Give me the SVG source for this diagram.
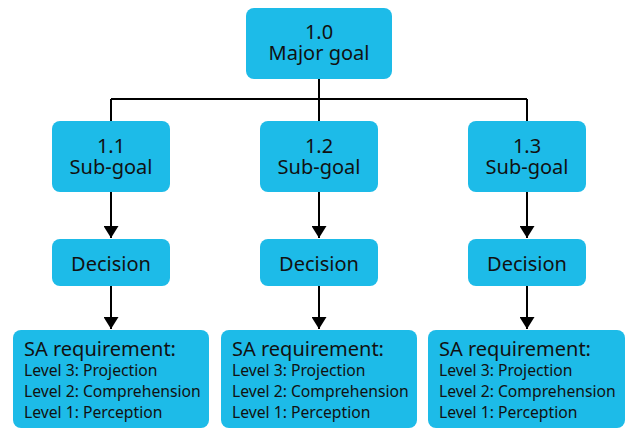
<svg xmlns="http://www.w3.org/2000/svg" width="629" height="430" viewBox="0 0 629 430">
<defs>
<marker id="ah" markerWidth="15" markerHeight="15" refX="12" refY="7.5" orient="auto" markerUnits="userSpaceOnUse">
<path d="M0,0 L12,7.5 L0,15 Z" fill="#000"/>
</marker>
<style>
.box{fill:#1dbbe8;}
.t{font-family:"Noto Sans","Liberation Sans",sans-serif;fill:#111;text-anchor:middle;font-size:20px;}
.h{font-family:"Noto Sans","Liberation Sans",sans-serif;fill:#111;font-size:20px;}
.l{font-family:"Noto Sans","Liberation Sans",sans-serif;fill:#111;font-size:15.7px;}
.c{stroke:#000;stroke-width:2;fill:none;}
</style>
</defs>
<rect width="629" height="430" fill="#fff"/>
<g id="connectors">
<path class="c" d="M319,79 V99 M111,99 H527 M111,99 V121 M319,99 V121 M527,99 V121"/>
<path class="c" d="M111,192 V238" marker-end="url(#ah)"/>
<path class="c" d="M319,192 V238" marker-end="url(#ah)"/>
<path class="c" d="M527,192 V238" marker-end="url(#ah)"/>
<path class="c" d="M111,286 V329" marker-end="url(#ah)"/>
<path class="c" d="M319,286 V329" marker-end="url(#ah)"/>
<path class="c" d="M527,286 V329" marker-end="url(#ah)"/>
</g>
<g id="goal">
<rect class="box" x="246" y="8" width="146" height="71" rx="8"/>
<text class="t" x="319" y="39">1.0</text>
<text class="t" x="319" y="60">Major goal</text>
</g>
<g id="sub1">
<rect class="box" x="52" y="121" width="118" height="71" rx="8"/>
<text class="t" x="111" y="153">1.1</text>
<text class="t" x="111" y="174">Sub-goal</text>
</g>
<g id="sub2">
<rect class="box" x="260" y="121" width="118" height="71" rx="8"/>
<text class="t" x="319" y="153">1.2</text>
<text class="t" x="319" y="174">Sub-goal</text>
</g>
<g id="sub3">
<rect class="box" x="468" y="121" width="118" height="71" rx="8"/>
<text class="t" x="527" y="153">1.3</text>
<text class="t" x="527" y="174">Sub-goal</text>
</g>
<g id="dec1">
<rect class="box" x="52" y="239" width="118" height="47" rx="8"/>
<text class="t" x="111" y="271">Decision</text>
</g>
<g id="dec2">
<rect class="box" x="260" y="239" width="118" height="47" rx="8"/>
<text class="t" x="319" y="271">Decision</text>
</g>
<g id="dec3">
<rect class="box" x="468" y="239" width="118" height="47" rx="8"/>
<text class="t" x="527" y="271">Decision</text>
</g>
<g id="sa1">
<rect class="box" x="13" y="330" width="196" height="98" rx="8"/>
<text class="h" x="24" y="356">SA requirement:</text>
<text class="l" x="24" y="376">Level 3: Projection</text>
<text class="l" x="24" y="397">Level 2: Comprehension</text>
<text class="l" x="24" y="418">Level 1: Perception</text>
</g>
<g id="sa2">
<rect class="box" x="221" y="330" width="196" height="98" rx="8"/>
<text class="h" x="232" y="356">SA requirement:</text>
<text class="l" x="232" y="376">Level 3: Projection</text>
<text class="l" x="232" y="397">Level 2: Comprehension</text>
<text class="l" x="232" y="418">Level 1: Perception</text>
</g>
<g id="sa3">
<rect class="box" x="428" y="330" width="197" height="98" rx="8"/>
<text class="h" x="439" y="356">SA requirement:</text>
<text class="l" x="439" y="376">Level 3: Projection</text>
<text class="l" x="439" y="397">Level 2: Comprehension</text>
<text class="l" x="439" y="418">Level 1: Perception</text>
</g>
</svg>
